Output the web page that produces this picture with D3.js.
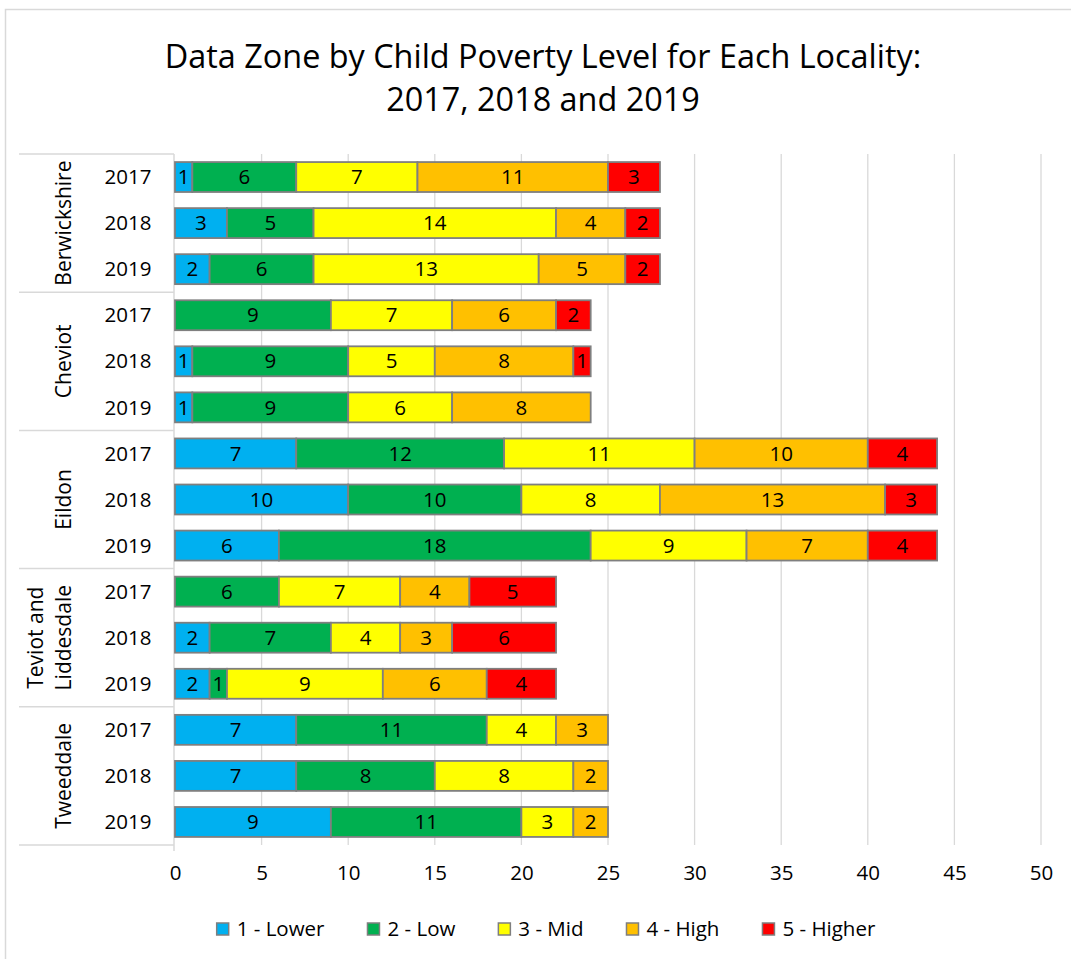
<!DOCTYPE html>
<html>
<head>
<meta charset="utf-8">
<script src="https://cdn.jsdelivr.net/npm/d3@7"></script>
<style>
  body { margin: 0; background: #fff; }
  svg text { font-family: "Open Sans", sans-serif; fill: #000; }
</style>
</head>
<body>
<div id="chart"></div>
<script>
const SVG_WIDTH = 1071;
const SVG_HEIGHT = 959;
const PLOT = { LEFT: 175, RIGHT: 1041, TOP: 154, BOTTOM: 845 }

// data
const localities = ["Berwickshire", "Cheviot", "Eildon", "Teviot and Liddesdale", "Tweeddale"];
const years = ["2017", "2018", "2019"];
const levels = ["1 - Lower", "2 - Low", "3 - Mid", "4 - High", "5 - Higher"];
const colors = ["#00B0F0", "#00B050", "#FFFF00", "#FFC000", "#FF0000"];

// one row per locality/year, values by level
const lower  = [1, 3, 2,  0, 1, 1,  7, 10, 6,  0, 2, 2,  7, 7, 9];
const low    = [6, 5, 6,  9, 9, 9,  12, 10, 18,  6, 7, 1,  11, 8, 11];
const mid    = [7, 14, 13,  7, 5, 6,  11, 8, 9,  7, 4, 9,  4, 8, 3];
const high   = [11, 4, 5,  6, 8, 8,  10, 13, 7,  4, 3, 6,  3, 2, 2];
const higher = [3, 2, 2,  2, 1, 0,  4, 3, 4,  5, 6, 4,  0, 0, 0];
const series = [lower, low, mid, high, higher];

const xTicks = [0, 5, 10, 15, 20, 25, 30, 35, 40, 45, 50];

var rows = [];
localities.forEach(function (loc, g) {
    years.forEach(function (yr, k) {
        var i = g * 3 + k;
        var row = { id: i, loc: loc, year: yr };
        levels.forEach(function (lv, j) { row[lv] = series[j][i]; });
        rows.push(row);
    });
});

var svg = d3.select("#chart").append("svg")
    .attr("width", SVG_WIDTH)
    .attr("height", SVG_HEIGHT);

// chart border
svg.append("rect")
    .attr("x", 5.5).attr("y", 9.5)
    .attr("width", SVG_WIDTH + 20).attr("height", SVG_HEIGHT + 20)
    .attr("fill", "#fff").attr("stroke", "#d9d9d9").attr("stroke-width", 1.5);

// title
svg.append("text")
    .attr("text-anchor", "middle")
    .style("font-size", "32.4px")
    .selectAll("tspan")
    .data(["Data Zone by Child Poverty Level for Each Locality:", "2017, 2018 and 2019"])
    .enter().append("tspan")
    .attr("x", 543)
    .attr("y", function (d, i) { return 68 + i * 43; })
    .text(function (d) { return d; });

const xScale = d3.scaleLinear()
    .domain([0, 50])
    .range([PLOT.LEFT, PLOT.RIGHT]);

const yScale = d3.scaleBand()
    .domain(d3.range(rows.length))
    .range([PLOT.TOP, PLOT.BOTTOM])
    .paddingInner(0.35)
    .paddingOuter(0.175);

// gridlines
svg.append("g").selectAll("line")
    .data(xTicks.slice(1))
    .enter().append("line")
    .attr("x1", function (d) { return xScale(d); })
    .attr("x2", function (d) { return xScale(d); })
    .attr("y1", PLOT.TOP)
    .attr("y2", PLOT.BOTTOM)
    .attr("stroke", "#d9d9d9")
    .attr("stroke-width", 1.3);

// x axis labels
var axisBottom = d3.axisBottom(xScale).tickValues(xTicks).tickSize(0).tickPadding(20);
var gx = svg.append("g")
    .attr("transform", `translate(0,${PLOT.BOTTOM})`)
    .call(axisBottom);
gx.select(".domain").remove();
gx.selectAll("text").style("font-size", "20.5px").attr("fill", "#000");

// category axis (multi-level)
var step = yScale.step();
var catG = svg.append("g").attr("stroke", "#d9d9d9").attr("stroke-width", 1.5);
catG.append("line")
    .attr("x1", PLOT.LEFT - 1).attr("x2", PLOT.LEFT - 1)
    .attr("y1", PLOT.TOP).attr("y2", PLOT.BOTTOM + 6);
catG.selectAll(".sep")
    .data(d3.range(localities.length + 1))
    .enter().append("line")
    .attr("class", "sep")
    .attr("x1", 19).attr("x2", PLOT.LEFT - 1)
    .attr("y1", function (d) { return PLOT.TOP + d * 3 * step; })
    .attr("y2", function (d) { return PLOT.TOP + d * 3 * step; });

// year labels
svg.append("g").selectAll("text")
    .data(rows)
    .enter().append("text")
    .attr("text-anchor", "middle")
    .attr("x", 128)
    .attr("y", function (d, i) { return yScale(i) + yScale.bandwidth() / 2; })
    .attr("dy", "0.35em")
    .style("font-size", "20.5px")
    .text(function (d) { return d.year; });

// locality labels, rotated
svg.append("g").selectAll("text")
    .data(localities)
    .enter().append("text")
    .attr("text-anchor", "middle")
    .style("font-size", "21px")
    .attr("transform", function (d, g) {
        var cy = PLOT.TOP + (g * 3 + 1.5) * step;
        return `translate(64,${cy}) rotate(-90)`;
    })
    .each(function (d) {
        var parts = d === "Teviot and Liddesdale" ? ["Teviot and", "Liddesdale"] : [d];
        d3.select(this).selectAll("tspan")
            .data(parts)
            .enter().append("tspan")
            .attr("x", 0)
            .attr("y", function (p, k) { return (k - (parts.length - 1)) * 28 + 7; })
            .text(function (p) { return p; });
    });

// stacked bars
var stacked = d3.stack().keys(levels)(rows);

var layers = svg.append("g").selectAll("g")
    .data(stacked)
    .enter().append("g")
    .attr("fill", function (d, j) { return colors[j]; });

layers.selectAll("rect")
    .data(function (d) { return d.filter(function (s) { return s[1] - s[0] > 0; }); })
    .enter().append("rect")
    .attr("x", function (s) { return xScale(s[0]); })
    .attr("y", function (s) { return yScale(s.data.id); })
    .attr("width", function (s) { return xScale(s[1]) - xScale(s[0]); })
    .attr("height", yScale.bandwidth())
    .attr("stroke", "#7f7f7f")
    .attr("stroke-width", 1.8);

layers.selectAll("text")
    .data(function (d) { return d.filter(function (s) { return s[1] - s[0] > 0; }); })
    .enter().append("text")
    .attr("text-anchor", "middle")
    .attr("x", function (s) { return (xScale(s[0]) + xScale(s[1])) / 2; })
    .attr("y", function (s) { return yScale(s.data.id) + yScale.bandwidth() / 2; })
    .attr("dy", "0.35em")
    .style("font-size", "20.5px")
    .style("fill", "#000")
    .text(function (s) { return s[1] - s[0]; });

// legend
var legend = svg.append("g");
var items = legend.selectAll("g")
    .data(levels)
    .enter().append("g");
items.append("rect")
    .attr("width", 12).attr("height", 12)
    .attr("y", 923)
    .attr("fill", function (d, j) { return colors[j]; })
    .attr("stroke", "#7f7f7f")
    .attr("stroke-width", 1.5);
items.append("text")
    .attr("x", 20)
    .attr("y", 929)
    .attr("dy", "0.35em")
    .style("font-size", "20.5px")
    .text(function (d) { return d; });

var pos = [];
var cur = 0;
items.each(function () {
    var w = d3.select(this).select("text").node().getComputedTextLength();
    pos.push(cur);
    cur += 20 + w + 43;
});
var total = cur - 43;
var startX = 546 - total / 2;
items.attr("transform", function (d, j) { return `translate(${startX + pos[j]},0)`; });
</script>
</body>
</html>
